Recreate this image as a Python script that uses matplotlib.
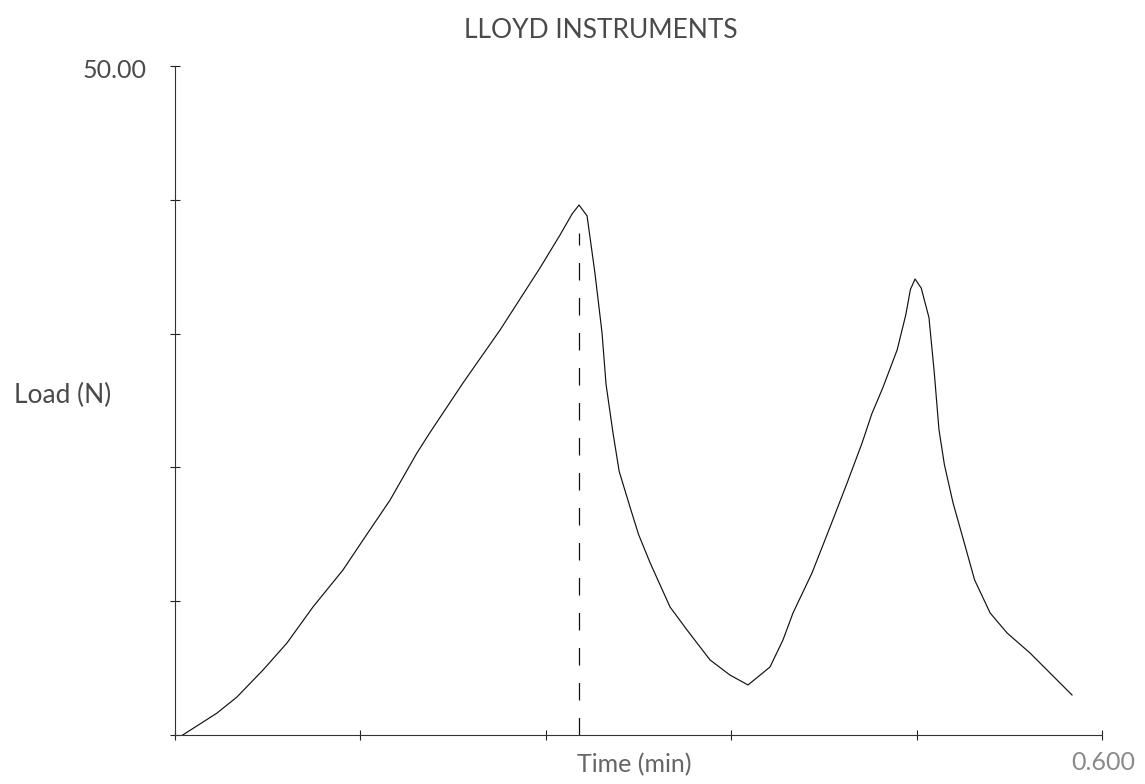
import numpy as np
import matplotlib
matplotlib.use("Agg")
import matplotlib.pyplot as plt

plt.rcParams["font.family"] = ["Lato", "DejaVu Sans"]

# load trace: time (min) vs load (N), two loading cycles
time_min = [0.005, 0.0272, 0.0401, 0.0570, 0.0725, 0.0893, 0.1087, 0.1217, 0.1392,
            0.1566, 0.1650, 0.1864, 0.2104, 0.2362, 0.2492, 0.2570, 0.2615, 0.2667,
            0.2718, 0.2764, 0.2790, 0.2835, 0.2875, 0.2945, 0.3000, 0.3074, 0.3204,
            0.3314, 0.3463, 0.3592, 0.3709, 0.3851, 0.3935, 0.4000, 0.4123, 0.4240,
            0.4350, 0.4447, 0.4510, 0.4583, 0.4674, 0.4730, 0.4760, 0.4790, 0.4830,
            0.4880, 0.4915, 0.4945, 0.4980, 0.5036, 0.5110, 0.5175, 0.5276, 0.5386,
            0.5534, 0.5644, 0.5806]
load_n = [0.0, 1.64, 2.84, 4.86, 6.88, 9.57, 12.33, 14.57, 17.56,
          21.08, 22.60, 26.31, 30.27, 34.90, 37.37, 38.94, 39.61, 38.80,
          34.53, 30.05, 26.20, 22.57, 19.70, 17.04, 15.00, 12.90, 9.57,
          7.85, 5.61, 4.48, 3.74, 5.08, 7.10, 9.12, 12.11, 15.55,
          18.83, 21.82, 24.00, 26.00, 28.78, 31.40, 33.30, 34.08, 33.40,
          31.20, 27.00, 22.80, 20.20, 17.34, 14.30, 11.60, 9.12, 7.62,
          6.13, 4.86, 2.99]

peak_time = 0.2615      # marker line at the first peak
marker_top = 37.5

x_max = 0.600
y_max = 50.00
x_ticks = [0.0, 0.12, 0.24, 0.36, 0.48, 0.60]
y_ticks = [0, 10, 20, 30, 40, 50]

fig = plt.figure(figsize=(11.45, 7.84), dpi=100)
ax = fig.add_axes([175 / 1145, 1 - 735 / 784, (1102 - 175) / 1145, (735 - 66) / 784])

ax.plot(time_min, load_n, color="#111111", lw=0.85)
ax.plot([peak_time, peak_time], [0, marker_top], color="#111111", lw=0.9,
        dashes=(14, 14))

ax.set_xlim(0, x_max)
ax.set_ylim(0, y_max)
ax.set_xticks(x_ticks)
ax.set_yticks(y_ticks)
ax.set_xticklabels([])
ax.set_yticklabels([])
ax.tick_params(direction="inout", length=7, width=0.8, color="#222222")
for s in ("top", "right"):
    ax.spines[s].set_visible(False)
for s in ("left", "bottom"):
    ax.spines[s].set_color("#333333")
    ax.spines[s].set_linewidth(0.8)

txt = dict(fontweight="normal", color="#4a4a4a")
fig.text(601 / 1145, 1 - 30 / 784, "LLOYD INSTRUMENTS", ha="center", va="center",
         fontsize=19, **txt)
fig.text(147 / 1145, 1 - 70 / 784, "50.00", ha="right", va="center", fontsize=18, **txt)
fig.text(14 / 1145, 1 - 395 / 784, "Load (N)", ha="left", va="center", fontsize=19, **txt)
fig.text(634 / 1145, 1 - 765 / 784, "Time (min)", ha="center", va="center",
         fontsize=18, color="#666666")
fig.text(1135 / 1145, 1 - 762 / 784, "0.600", ha="right", va="center",
         fontsize=18, color="#8a8a8a")

fig.savefig("out.png", dpi=100, facecolor="white")
